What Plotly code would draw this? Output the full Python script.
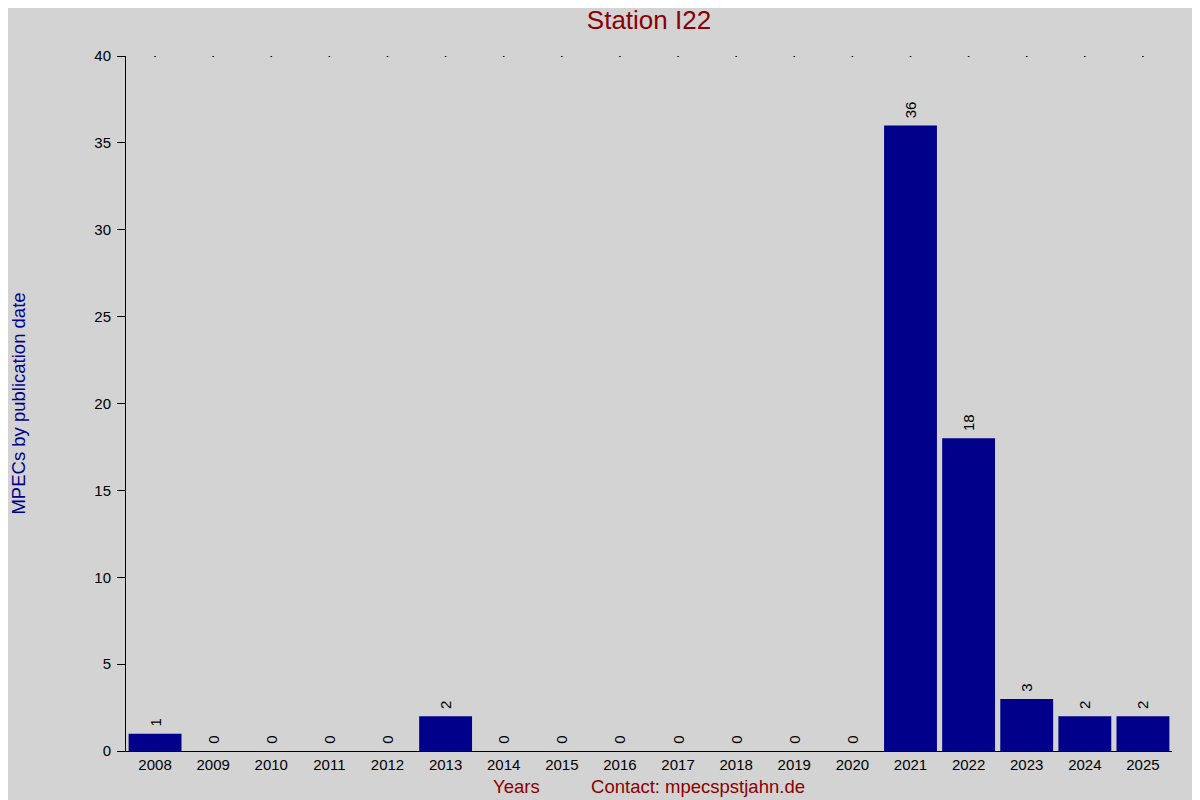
import plotly.graph_objects as go

years = [str(y) for y in range(2008, 2026)]
counts = [1, 0, 0, 0, 0, 2, 0, 0, 0, 0, 0, 0, 0, 36, 18, 3, 2, 2]
y_max = 40

fig = go.Figure()
fig.add_trace(go.Bar(
    x=years, y=counts,
    marker=dict(color="#00008B", line=dict(width=0)),
    text=["\u00a0" + str(c) for c in counts],
    textposition="outside", textangle=-90,
    textfont=dict(size=15, color="black"),
    cliponaxis=False,
))
# small dots along the top of the plot
fig.add_trace(go.Scatter(
    x=years, y=[y_max] * len(years), mode="markers",
    marker=dict(size=2, color="black"), hoverinfo="skip",
))

fig.update_layout(
    width=1200, height=800,
    paper_bgcolor="#D3D3D3", plot_bgcolor="#D3D3D3",
    font=dict(family="Liberation Sans, Arial", size=15, color="black"),
    margin=dict(l=118, r=36, t=48, b=57, autoexpand=False),
    showlegend=False, bargap=0.09,
    title=dict(text="Station I22", x=0.5, xref="paper", y=0.996, yanchor="top",
               font=dict(size=26, color="#8B0000")),
    xaxis=dict(
        title=dict(text="Years" + "\u00a0" * 10 + "Contact: mpecspstjahn.de",
                   font=dict(size=18.5, color="#8B0000"), standoff=8),
        showline=True, linecolor="black", linewidth=1, automargin=False,
        ticks="", showgrid=False, range=[-0.5, 17.5],
    ),
    yaxis=dict(
        title=dict(text="MPECs by publication date", font=dict(size=18.5, color="#00008B"),
                   standoff=74),
        range=[0, y_max], dtick=5, showline=True, linecolor="black", linewidth=1,
        ticks="outside", ticklen=8, tickcolor="black", showgrid=False, zeroline=False,
        ticklabelstandoff=3, automargin=False,
    ),
)

fig.write_html("out.html")
